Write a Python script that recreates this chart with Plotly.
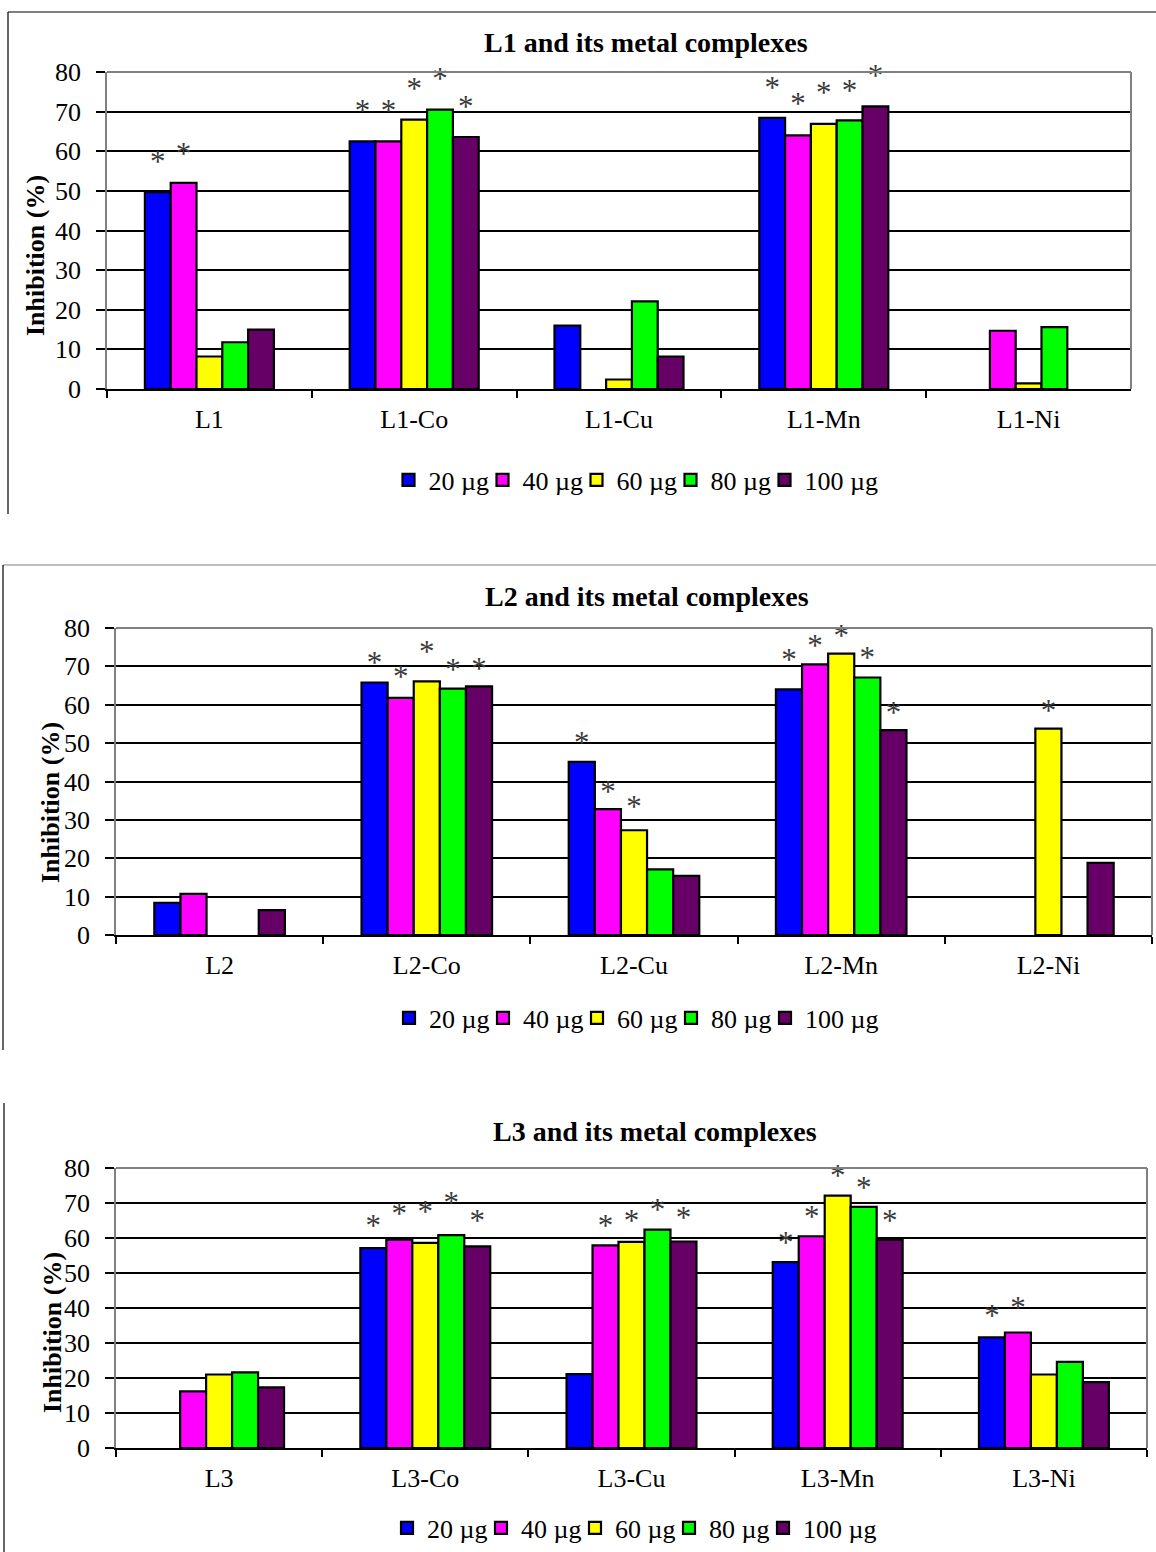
import plotly.graph_objects as go

# ---------------------------------------------------------------- data
doses = ["20 µg", "40 µg", "60 µg", "80 µg", "100 µg"]
dose_colors = ["#0000FF", "#FF00FF", "#FFFF00", "#00FF00", "#660066"]

# L1 series: inhibition (%) for each dose across the compounds (None = no bar)
cats_L1 = ["L1", "L1-Co", "L1-Cu", "L1-Mn", "L1-Ni"]
L1_20 = [49.7, 62.5, 16.0, 68.4, None]
L1_40 = [52.0, 62.5, None, 64.0, 14.7]
L1_60 = [8.2, 68.0, 2.4, 66.9, 1.4]
L1_80 = [11.8, 70.5, 22.1, 67.8, 15.6]
L1_100 = [15.0, 63.6, 8.2, 71.3, None]
# heights of the significance asterisks (None = not significant)
L1_sig_20 = [58.5, 71.3, None, 77.2, None]
L1_sig_40 = [60.5, 71.3, None, 73.1, None]
L1_sig_60 = [None, 76.9, None, 76.0, None]
L1_sig_80 = [None, 79.4, None, 76.5, None]
L1_sig_100 = [None, 72.4, None, 80.3, None]

cats_L2 = ["L2", "L2-Co", "L2-Cu", "L2-Mn", "L2-Ni"]
L2_20 = [8.4, 65.8, 45.1, 64.0, None]
L2_40 = [10.7, 61.8, 32.8, 70.5, None]
L2_60 = [None, 66.1, 27.3, 73.3, 53.8]
L2_80 = [None, 64.2, 17.1, 67.1, None]
L2_100 = [6.5, 64.8, 15.4, 53.4, 18.8]
L2_sig_20 = [None, 72.0, 51.4, 72.9, None]
L2_sig_40 = [None, 68.5, 38.6, 76.5, None]
L2_sig_60 = [None, 74.9, 34.7, 79.1, 59.7]
L2_sig_80 = [None, 70.3, None, 73.3, None]
L2_sig_100 = [None, 70.5, None, 59.0, None]

cats_L3 = ["L3", "L3-Co", "L3-Cu", "L3-Mn", "L3-Ni"]
L3_20 = [None, 57.1, 21.1, 53.1, 31.6]
L3_40 = [16.2, 59.5, 57.9, 60.5, 33.0]
L3_60 = [21.0, 58.6, 58.9, 72.1, 21.0]
L3_80 = [21.6, 60.8, 62.4, 68.9, 24.6]
L3_100 = [17.3, 57.6, 59.0, 59.5, 18.8]
L3_sig_20 = [None, 64.8, None, 60.0, 39.0]
L3_sig_40 = [None, 68.1, 64.8, 67.3, 41.4]
L3_sig_60 = [None, 68.9, 66.2, 79.2, None]
L3_sig_80 = [None, 71.4, 69.5, 75.7, None]
L3_sig_100 = [None, 66.2, 67.0, 66.2, None]

titles = ["L1 and its metal complexes",
          "L2 and its metal complexes",
          "L3 and its metal complexes"]
y_title = "Inhibition (%)"

panels = [
    (cats_L1, [L1_20, L1_40, L1_60, L1_80, L1_100],
     [L1_sig_20, L1_sig_40, L1_sig_60, L1_sig_80, L1_sig_100]),
    (cats_L2, [L2_20, L2_40, L2_60, L2_80, L2_100],
     [L2_sig_20, L2_sig_40, L2_sig_60, L2_sig_80, L2_sig_100]),
    (cats_L3, [L3_20, L3_40, L3_60, L3_80, L3_100],
     [L3_sig_20, L3_sig_40, L3_sig_60, L3_sig_80, L3_sig_100]),
]

# ---------------------------------------------------------------- layout
W, H = 1156, 1552
FONT = "Liberation Serif, Times New Roman, serif"
Y_MAX = 80
STAR_DROP_PX = 7        # the "*" glyph sits high in its text box
LEGEND_PITCH = 94       # spacing between legend entries, px


def fx(p):
    return p / W


def fy(p):
    return 1 - p / H


def legend_id(n):
    return "legend" if n == 1 else f"legend{n}"


# plot-area boxes in pixels: (left, right, top, bottom)
boxes = [(107, 1131, 72, 389), (116, 1152, 628, 935), (116, 1147, 1168, 1448)]
title_pos = [(646, 42), (647, 596), (655, 1131)]
ytitle_pos = [(36, 256), (50, 802), (52, 1333)]
legend_pos = [(388.5, 480), (389, 1018), (387, 1528)]

fig = go.Figure()

for k, (cats, series, sigs) in enumerate(panels):
    xa = "x" if k == 0 else f"x{k + 1}"
    ya = "y" if k == 0 else f"y{k + 1}"
    for i, (name, col) in enumerate(zip(doses, dose_colors)):
        # every legend entry sits in its own box so the row keeps an even pitch
        fig.add_trace(go.Bar(
            x=cats, y=series[i], name=name, xaxis=xa, yaxis=ya,
            legend=legend_id(k * len(doses) + i + 1), offsetgroup=str(i),
            marker=dict(color=col, line=dict(color="black", width=2.2)),
        ))
    l, r, t, b = boxes[k]
    drop = STAR_DROP_PX * Y_MAX / (b - t)
    for i, name in enumerate(doses):
        ys = [None if v is None else v - drop for v in sigs[i]]
        fig.add_trace(go.Scatter(
            x=cats, y=ys, mode="text", text=["*"] * len(cats),
            textposition="middle center", offsetgroup=str(i),
            textfont=dict(family=FONT, size=31, color="#3a3a3a"),
            xaxis=xa, yaxis=ya, showlegend=False, hoverinfo="skip",
            cliponaxis=False,
        ))

layout = dict(
    width=W, height=H,
    margin=dict(l=0, r=0, t=0, b=0, autoexpand=False),
    paper_bgcolor="white", plot_bgcolor="white",
    barmode="group", bargap=0.37, bargroupgap=0,
    scattermode="group", scattergap=0.37,
    font=dict(family=FONT, size=26, color="black"),
    showlegend=True,
)

annotations = []
shapes = []
for k, (l, r, t, b) in enumerate(boxes):
    sfx = "" if k == 0 else str(k + 1)
    layout["xaxis" + sfx] = dict(
        domain=[fx(l), fx(r)], anchor="y" + sfx, type="category",
        showline=True, linecolor="black", linewidth=2,
        ticks="outside", tickson="boundaries", ticklen=7,
        tickwidth=1.5, tickcolor="black", showgrid=False,
        tickfont=dict(family=FONT, size=26, color="black"),
        ticklabelstandoff=6, fixedrange=True, automargin=False,
    )
    layout["yaxis" + sfx] = dict(
        domain=[fy(b), fy(t)], anchor="x" + sfx, range=[0, Y_MAX], dtick=10,
        showline=True, linecolor="#808080", linewidth=1.5,
        ticks="outside", ticklen=9, tickwidth=1.5, tickcolor="black",
        showgrid=True, gridcolor="black", gridwidth=1.5, zeroline=False,
        tickfont=dict(family=FONT, size=26, color="black"),
        ticklabelstandoff=10, fixedrange=True, automargin=False,
    )
    lgx, lgy = legend_pos[k]
    for i in range(len(doses)):
        layout[legend_id(k * len(doses) + i + 1)] = dict(
            orientation="h", xanchor="left", yanchor="middle",
            x=fx(lgx + i * LEGEND_PITCH), y=fy(lgy),
            bgcolor="rgba(0,0,0,0)", itemwidth=30,
            font=dict(family=FONT, size=26, color="black"),
        )
    tx, ty = title_pos[k]
    annotations.append(dict(
        text="<b>%s</b>" % titles[k], xref="paper", yref="paper",
        x=fx(tx), y=fy(ty), xanchor="center", yanchor="middle",
        showarrow=False, font=dict(family=FONT, size=28, color="black"),
    ))
    yx, yy = ytitle_pos[k]
    annotations.append(dict(
        text="<b>%s</b>" % y_title, xref="paper", yref="paper",
        x=fx(yx), y=fy(yy), xanchor="center", yanchor="middle",
        textangle=-90, showarrow=False,
        font=dict(family=FONT, size=26, color="black"),
    ))
    # grey plot-area border on the top and right sides
    xd, yd = ("x" + sfx + " domain"), ("y" + sfx + " domain")
    shapes.append(dict(type="line", xref=xd, yref=yd, x0=0, x1=1, y0=1, y1=1,
                       line=dict(color="#808080", width=2), layer="above"))
    shapes.append(dict(type="line", xref=xd, yref=yd, x0=1, x1=1, y0=0, y1=1,
                       line=dict(color="#808080", width=2), layer="above"))

# outer frame lines around each chart
frames = [
    ((8, 12), (1156, 12), "black"), ((8, 12), (8, 514), "black"),
    ((3, 565), (1156, 565), "#808080"), ((3, 565), (3, 1050), "black"),
    ((4, 1103), (4, 1552), "black"),
]
for (x0, y0), (x1, y1), c in frames:
    shapes.append(dict(type="line", xref="paper", yref="paper",
                       x0=fx(x0), y0=fy(y0), x1=fx(x1), y1=fy(y1),
                       line=dict(color=c, width=1.2)))

layout["annotations"] = annotations
layout["shapes"] = shapes
fig.update_layout(**layout)

fig.write_html("out.html", config={"displayModeBar": False})
